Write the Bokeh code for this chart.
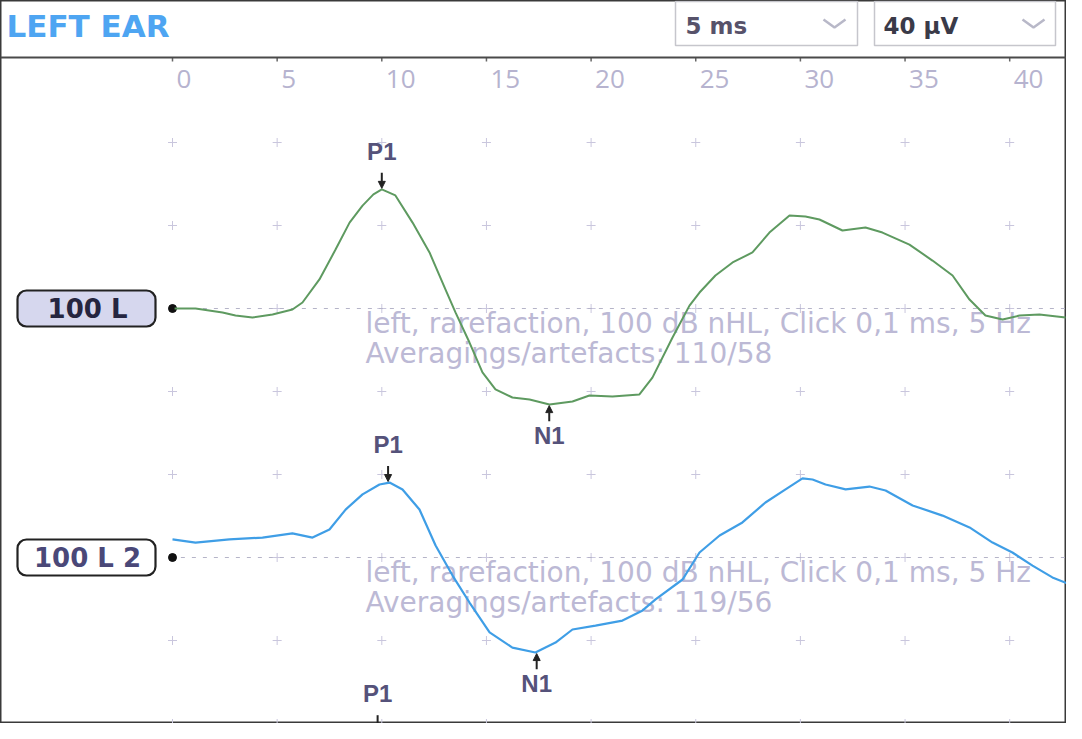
import numpy as np
from bokeh.plotting import figure
from bokeh.models import BoxAnnotation, Span, Arrow, NormalHead, ColumnDataSource, Range1d
from bokeh.core.properties import value
from bokeh.embed import file_html
from bokeh.resources import INLINE

# ---------------- data ----------------
title_text = "LEFT EAR"
time_scale_label = "5 ms"
amp_scale_label = "40 µV"

x_ticks = [0, 5, 10, 15, 20, 25, 30, 35, 40]
x_tick_labels = ["0", "5", "10", "15", "20", "25", "30", "35", "40"]
grid_rows = [80, 40, 0, -40, -80, -120, -160, -200]   # µV, one division = 40 µV

ch_names = ["100 L", "100 L 2"]
ch_offsets = [0, -120]
ch_info1 = ["left, rarefaction, 100 dB nHL, Click 0,1 ms, 5 Hz",
            "left, rarefaction, 100 dB nHL, Click 0,1 ms, 5 Hz"]
ch_info2 = ["Averagings/artefacts: 110/58", "Averagings/artefacts: 119/56"]

# trace 1 (green), ms / µV
t1 = [0.10, 1.10, 2.39, 3.01, 3.82, 4.78, 5.73, 6.21, 7.02, 7.79, 8.46, 9.08, 9.60, 10.00,
      10.65, 11.47, 12.28, 13.04, 13.52, 14.19, 14.81, 15.43, 16.24, 17.06, 18.01, 19.11,
      19.92, 21.02, 22.31, 22.93, 23.89, 24.70, 25.18, 25.94, 26.76, 27.71, 28.52, 29.48,
      30.24, 30.91, 32.01, 33.11, 33.92, 35.21, 36.31, 37.27, 38.08, 38.84, 39.66, 40.47,
      41.42, 42.67]
v1 = [0.0, 0.0, -1.9, -3.4, -4.3, -2.9, -0.5, 2.9, 14.0, 28.4, 41.4, 49.6, 55.0, 57.4,
      54.5, 41.4, 27.0, 9.2, -1.9, -16.4, -30.8, -39.0, -42.9, -43.9, -46.3, -44.8,
      -41.9, -42.4, -41.4, -33.3, -14.0, 1.4, 7.7, 15.9, 22.2, 27.0, 36.6, 44.8,
      44.3, 42.9, 37.6, 39.0, 36.6, 30.8, 23.1, 15.9, 4.3, -3.4, -5.3, -3.4,
      -2.9, -4.3]

# trace 2 (blue), ms / µV
t2 = [0.00, 1.10, 2.72, 4.30, 5.73, 6.69, 7.50, 8.27, 9.08, 9.89, 10.37, 10.99, 11.80,
      12.57, 13.38, 14.19, 15.15, 16.24, 17.34, 18.30, 19.11, 20.21, 21.50, 22.46, 23.08,
      24.37, 25.18, 26.14, 27.23, 28.33, 29.29, 30.10, 30.58, 31.20, 32.16, 33.30, 34.07,
      35.36, 36.79, 38.08, 39.18, 40.13, 41.09, 42.04, 43.00]
v2 = [8.7, 7.2, 8.7, 9.6, 11.6, 9.6, 13.5, 23.1, 30.4, 35.2, 36.1, 32.8, 23.1,
      5.8, -8.7, -21.7, -36.1, -43.4, -45.8, -41.0, -34.7, -32.8, -30.4, -25.5, -20.2,
      -10.6, 2.4, 10.6, 16.9, 26.5, 32.8, 38.1, 37.6, 35.2, 32.8, 34.2, 32.3,
      25.1, 20.2, 14.5, 7.2, 2.4, -3.9, -9.6, -13.5]

peak_names = ["P1", "N1", "P1", "N1", "P1"]
peak_t = [10.0, 18.0, 10.3, 17.4, 9.8]
peak_v = [57.4, -46.3, 36.1, -45.8, 36.0]
peak_ch_offset = [0, 0, -120, -120, -240]

# ---------------- layout ----------------
W, H = 1066, 723
PAGE = 8
X0_PX, PX_PER_MS = 180.0, 20.93
Y0_PX, PX_PER_UV = 316.0, 83.0 / 40.0

def lx(px):
    return (px - X0_PX) / PX_PER_MS

def ly(py):
    return (Y0_PX - py) / PX_PER_UV

p = figure(width=W, height=H, output_backend="svg", toolbar_location=None,
           x_range=Range1d(lx(PAGE), lx(PAGE + W)), y_range=Range1d(ly(PAGE + H), ly(PAGE)),
           x_axis_location=None, y_axis_location=None, min_border=0)
p.grid.visible = False
p.background_fill_color = "white"
p.border_fill_color = "white"
p.outline_line_color = "#3a3a3a"
p.outline_line_width = 2

# grid crosses
gx, gy = np.meshgrid(x_ticks, grid_rows)
p.scatter(gx.ravel(), gy.ravel(), marker="cross", size=9, line_color="#c9c6dd", line_width=1)

# header
p.add_layout(Span(location=ly(65), dimension="width", line_color="#4a4a4a", line_width=2))
p.segment(x0=x_ticks, y0=[ly(65)] * len(x_ticks), x1=x_ticks, y1=[ly(69)] * len(x_ticks),
          line_color="#666666", line_width=1.5)
p.text(x=[lx(14)], y=[ly(33)], text=[title_text], text_font=value("DejaVu Sans"),
       text_font_style="bold", text_font_size="31px", text_color="#4ea5f2",
       text_align="left", text_baseline="middle")
for (l, r) in [(683, 865), (882, 1063)]:
    p.add_layout(BoxAnnotation(left=lx(l), right=lx(r), top=ly(9), bottom=ly(53),
                               fill_color="white", fill_alpha=1, line_color="#c6c6cc",
                               line_alpha=1, line_width=1.5, level="underlay"))
p.text(x=[lx(693), lx(891)], y=[ly(33), ly(33)], text=[time_scale_label, amp_scale_label],
       text_font=value("DejaVu Sans"), text_font_style="bold", text_font_size="23px",
       text_color=["#57526a", "#3a3a48"], text_align="left", text_baseline="middle")
p.multi_line(xs=[[lx(831), lx(842), lx(853)], [lx(1030), lx(1041), lx(1052)]],
             ys=[[ly(27), ly(35), ly(27)], [ly(27), ly(35), ly(27)]],
             line_color="#b8b8c8", line_width=2.5)

# x tick labels
p.text(x=x_ticks, y=[ly(86)] * len(x_ticks), text=x_tick_labels, text_font=value("Open Sans"),
       text_font_size="26px", text_color="#b6b3cf", text_align="left", text_baseline="middle",
       x_offset=4)

# channels
for name, off, info1, info2, col_fill, col_txt in zip(
        ch_names, ch_offsets, ch_info1, ch_info2, ["#d6d7ee", "white"], ["#252540", "#4a4878"]):
    p.segment(x0=[0.4], y0=[off], x1=[lx(PAGE + W)], y1=[off], line_color="#b5b4c8",
              line_width=1.2, line_dash="4 7")
    p.add_layout(BoxAnnotation(left=lx(25), right=lx(163), top=off + 18 / PX_PER_UV,
                               bottom=off - 18 / PX_PER_UV, fill_color=col_fill, fill_alpha=1,
                               line_color="#222222", line_alpha=1, line_width=2.2,
                               border_radius=9, level="underlay"))
    p.text(x=[lx(95)], y=[off], text=[name], text_font=value("DejaVu Sans"),
           text_font_style="bold", text_font_size="26px", text_color=col_txt,
           text_align="center", text_baseline="middle")
    p.scatter([0], [off], size=8, color="#111111")
    p.text(x=[lx(373), lx(373)], y=[off, off], text=[info1, info2], y_offset=[15, 45],
           text_font=value("DejaVu Sans"), text_font_size="28px", text_color="#bcb9d5",
           text_align="left", text_baseline="middle")

# traces
p.line(t1, np.array(v1) + ch_offsets[0], line_color="#5e9a60", line_width=2)
p.line(t2, np.array(v2) + ch_offsets[1], line_color="#3f9ee6", line_width=2.2)

# peak markers
pv = np.array(peak_v) + np.array(peak_ch_offset)
direc = np.array([1 if n.startswith("P") else -1 for n in peak_names])
msrc = ColumnDataSource(dict(x=peak_t, tip=pv + direc * 0.5, tail=pv + direc * 8.0,
                             lab=pv, name=peak_names,
                             yoff=[-38 if d > 0 else 31 for d in direc]))
p.add_layout(Arrow(end=NormalHead(size=7, fill_color="#222222", line_color="#222222"),
                   x_start="x", y_start="tail", x_end="x", y_end="tip", source=msrc,
                   line_color="#222222", line_width=2))
p.text(x="x", y="lab", text="name", y_offset="yoff", source=msrc,
       text_font=value("Liberation Sans"), text_font_style="bold", text_font_size="24px",
       text_color="#55527a", text_align="center", text_baseline="middle")

open("out.html", "w", encoding="utf-8").write(file_html(p, INLINE))
